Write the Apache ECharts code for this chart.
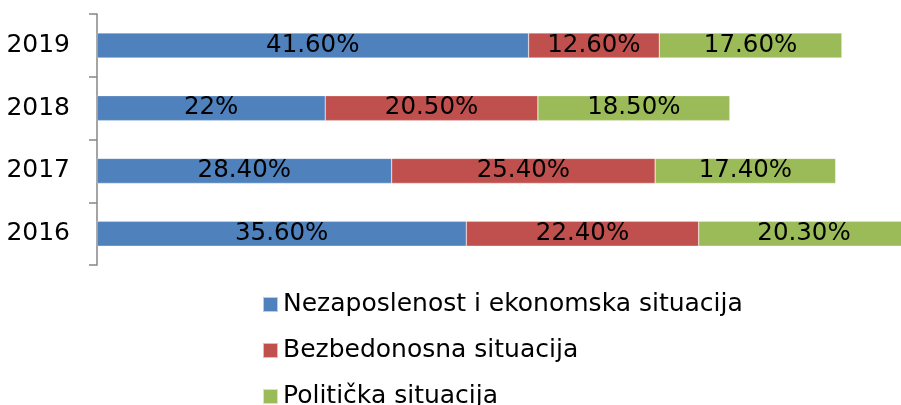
<!DOCTYPE html>
<html>
<head>
<meta charset="utf-8">
<script src="https://cdn.jsdelivr.net/npm/echarts@6/dist/echarts.min.js"></script>
<style>
  html, body { margin: 0; padding: 0; background: #fff; }
  #chart { width: 901px; height: 405px; }
</style>
</head>
<body>
<div id="chart"></div>
<script>
  // godine (odozdo nagore)
  const years = ['2016', '2017', '2018', '2019']
  const nezaposlenost = [35.6, 28.4, 22, 41.6]
  const bezbednost = [22.4, 25.4, 20.5, 12.6]
  const politika = [20.3, 17.4, 18.5, 17.6]
  const seriesNames = ['Nezaposlenost i ekonomska situacija', 'Bezbedonosna situacija', 'Politička situacija']
  const colors = ['#4F81BD', '#C0504D', '#9BBB59']

  const font = 'DejaVu Sans'
  const fmt = p => Number.isInteger(p.value) ? p.value + '%' : p.value.toFixed(2) + '%'

  const chart = echarts.init(document.getElementById('chart'))

  const mkSerie = (name, data, color) => ({
    name,
    type: 'bar',
    stack: 'ukupno',
    barWidth: 25,
    clip: false,
    data,
    itemStyle: { color, borderColor: 'rgba(255,255,255,0.6)', borderWidth: 0.5 },
    label: {
      show: true,
      position: 'inside',
      formatter: fmt,
      color: '#000',
      fontFamily: font,
      fontSize: 24.5
    }
  })

  // jedna legenda po stavci, da bi stajale jedna ispod druge
  const mkLegend = (name, top) => ({
    orient: 'vertical',
    left: 262,
    top,
    padding: 0,
    icon: 'rect',
    itemWidth: 15,
    itemHeight: 15,
    textStyle: { fontFamily: font, fontSize: 25, color: '#000' },
    data: [name]
  })

  chart.setOption({
    animation: false,
    color: colors,
    grid: { left: 97, top: 14, right: 0, height: 251 },
    legend: [
      mkLegend(seriesNames[0], 292),
      mkLegend(seriesNames[1], 338),
      mkLegend(seriesNames[2], 384)
    ],
    xAxis: {
      type: 'value',
      min: 0,
      max: 77.5,
      show: false
    },
    yAxis: {
      type: 'category',
      data: years,
      axisLine: { lineStyle: { color: '#868686', width: 1.5 } },
      axisTick: { show: true, length: 8, lineStyle: { color: '#868686', width: 1.5 } },
      axisLabel: { margin: 27, color: '#000', fontFamily: font, fontSize: 25 }
    },
    series: [
      mkSerie(seriesNames[0], nezaposlenost, colors[0]),
      mkSerie(seriesNames[1], bezbednost, colors[1]),
      mkSerie(seriesNames[2], politika, colors[2])
    ]
  })
</script>
</body>
</html>
